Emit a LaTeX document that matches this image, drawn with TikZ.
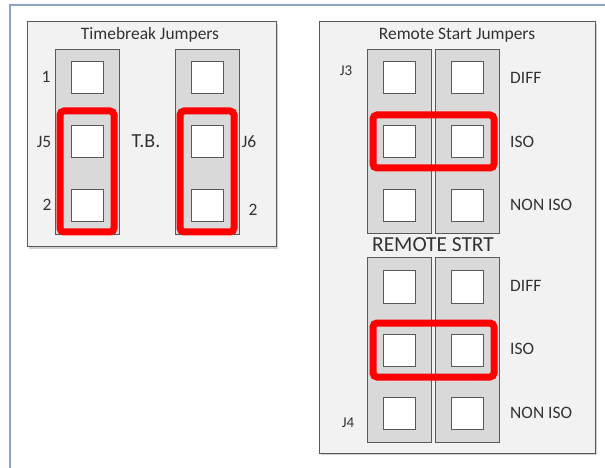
\documentclass[tikz,border=0pt]{standalone}
\usepackage{fontspec}
\setmainfont{Carlito}
\usepackage{tikz}
\usepackage{xcolor}
\definecolor{frameColor}{HTML}{8DA3BF}
\definecolor{boxBgColor}{HTML}{F2F2F2}
\definecolor{boxLineColor}{HTML}{595959}
\definecolor{shadowColor}{HTML}{D0D0D0}
\definecolor{stripColor}{HTML}{D9D9D9}
\definecolor{pinColor}{HTML}{FFFFFF}
\definecolor{linkColor}{HTML}{FF0000}
\definecolor{labelTextColor}{HTML}{333333}
\def\textTB{Timebreak Jumpers}
\def\textRS{Remote Start Jumpers}
\def\textRSmid{REMOTE STRT}
\def\textDiff{DIFF}
\def\textIso{ISO}
\def\textNonIso{NON ISO}

\begin{document}
\begin{tikzpicture}[x=1bp,y=-1bp,
  boxstyle/.style={fill=boxBgColor, draw=boxLineColor, line width=1bp},
  stripstyle/.style={fill=stripColor, draw=boxLineColor, line width=1bp},
  pinstyle/.style={rectangle, inner sep=0pt, minimum size=32bp, fill=pinColor, draw=boxLineColor, line width=1bp},
  linkstyle/.style={draw=linkColor, line width=7bp, rounded corners=4bp},
  labelstyle/.style={text=labelTextColor, inner sep=0pt, font=\fontsize{17.5}{19}\selectfont}]

\useasboundingbox (0, 0) rectangle (605, 468);

% outer frame
\begin{scope}
\draw[color=frameColor, line width=2bp] (10, 468) -- (10, 5) -- (605, 5);
\end{scope}

% box layer
\begin{scope}
\fill[color=shadowColor] (29, 24) rectangle (278, 249);
\draw[boxstyle] (27, 22) rectangle (276, 247);
\fill[color=shadowColor] (321, 24) rectangle (597, 455);
\draw[boxstyle] (319, 22) rectangle (595, 453);
\end{scope}

% strip layer
\begin{scope}
\draw[stripstyle] (55, 50) rectangle (119, 235);
\draw[stripstyle] (175, 50) rectangle (239, 235);
\draw[stripstyle] (367, 50) rectangle (431, 234);
\draw[stripstyle] (435, 50) rectangle (499, 234);
\draw[stripstyle] (367, 258) rectangle (431, 442);
\draw[stripstyle] (435, 258) rectangle (499, 442);
\end{scope}

% pin layer
\begin{scope}
\node[pinstyle] (jFiveA) at (87, 78) {};
\node[pinstyle] (jFiveB) at (87, 142) {};
\node[pinstyle] (jFiveC) at (87, 206) {};
\node[pinstyle] (jSixA) at (207, 78) {};
\node[pinstyle] (jSixB) at (207, 142) {};
\node[pinstyle] (jSixC) at (207, 206) {};
\node[pinstyle] (jThreeLA) at (399, 78) {};
\node[pinstyle] (jThreeLB) at (399, 142) {};
\node[pinstyle] (jThreeLC) at (399, 206) {};
\node[pinstyle] (jThreeRA) at (467, 78) {};
\node[pinstyle] (jThreeRB) at (467, 142) {};
\node[pinstyle] (jThreeRC) at (467, 206) {};
\node[pinstyle] (jFourLA) at (399, 287) {};
\node[pinstyle] (jFourLB) at (399, 350) {};
\node[pinstyle] (jFourLC) at (399, 413) {};
\node[pinstyle] (jFourRA) at (467, 287) {};
\node[pinstyle] (jFourRB) at (467, 350) {};
\node[pinstyle] (jFourRC) at (467, 413) {};
\end{scope}

% link layer
\begin{scope}
\draw[linkstyle] (60, 111) rectangle (114, 232);
\draw[linkstyle] (180, 111) rectangle (234, 232);
\draw[linkstyle] (373, 115) rectangle (494, 168);
\draw[linkstyle] (373, 323) rectangle (494, 377);
\end{scope}

% label layer
\begin{scope}
\node[labelstyle] (tbTitle) at (150, 35) {\textTB};
\node[labelstyle] (tbOne) at (46, 77) {1};
\node[labelstyle] (tbFive) at (44, 142) {J5};
\node[labelstyle] (tbTwoL) at (47, 205) {2};
\node[labelstyle, font=\fontsize{20}{22}\selectfont] (tbMid) at (146, 141) {T.B.};
\node[labelstyle] (tbSix) at (249, 142) {J6};
\node[labelstyle] (tbTwoR) at (253, 210) {2};
\node[labelstyle] (rsTitle) at (457, 35) {\textRS};
\node[labelstyle, font=\fontsize{15}{17}\selectfont] (rsThree) at (346, 71) {J3};
\node[labelstyle, font=\fontsize{15}{17}\selectfont] (rsFour) at (348, 423) {J4};
\node[labelstyle, font=\fontsize{21.5}{23}\selectfont] (rsMid) at (433, 245) {\textRSmid};
\node[labelstyle, anchor=west] (rsDiffA) at (510, 78) {\textDiff};
\node[labelstyle, anchor=west] (rsIsoA) at (510, 142) {\textIso};
\node[labelstyle, anchor=west] (rsNonIsoA) at (510, 205) {\textNonIso};
\node[labelstyle, anchor=west] (rsDiffB) at (510, 286) {\textDiff};
\node[labelstyle, anchor=west] (rsIsoB) at (510, 349) {\textIso};
\node[labelstyle, anchor=west] (rsNonIsoB) at (510, 413) {\textNonIso};
\end{scope}

\end{tikzpicture}
\end{document}
